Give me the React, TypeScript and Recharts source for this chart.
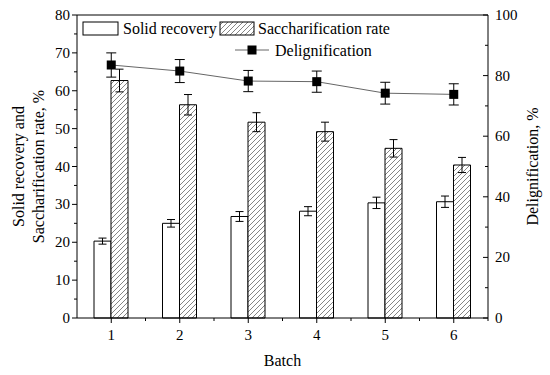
import {
  Bar,
  ComposedChart,
  ErrorBar,
  Label,
  Line,
  ReferenceLine,
  XAxis,
  YAxis,
} from "recharts";

const batches = ["1", "2", "3", "4", "5", "6"];
const solidRecovery = [20.3, 25.0, 26.8, 28.2, 30.4, 30.7];
const solidErr = [0.8, 1.0, 1.3, 1.2, 1.5, 1.5];
const saccharification = [62.7, 56.3, 51.7, 49.2, 44.8, 40.4];
const saccharificationErr = [3.0, 2.7, 2.5, 2.5, 2.3, 2.0];
const delignification = [83.5, 81.5, 78.2, 78.0, 74.2, 73.8];
const delignificationErr = [4.0, 3.8, 3.5, 3.5, 3.6, 3.5];

const leftTicks = [0, 5, 10, 15, 20, 25, 30, 35, 40, 45, 50, 55, 60, 65, 70, 75, 80];
const rightTicks = [0, 10, 20, 30, 40, 50, 60, 70, 80, 90, 100];

const data = batches.map((batch, i) => ({
  batch,
  solid: solidRecovery[i],
  solidErr: solidErr[i],
  sacch: saccharification[i],
  sacchErr: saccharificationErr[i],
  delig: delignification[i],
  deligErr: delignificationErr[i],
}));

const SERIF = { fontFamily: "Liberation Serif" };
const BAND = 411 / 6;

const LeftTick = ({ x, y, payload }: any) => {
  const major = payload.value % 10 === 0;
  return (
    <g>
      <line x1={x} x2={x - (major ? 5 : 3)} y1={y} y2={y} stroke="#000" />
      {major && (
        <text x={x - 7} y={y} dy={5} textAnchor="end" fontSize={15} style={SERIF} fill="#000">
          {payload.value}
        </text>
      )}
    </g>
  );
};

const RightTick = ({ x, y, payload }: any) => {
  const major = payload.value % 20 === 0;
  return (
    <g>
      <line x1={x} x2={x - (major ? 5 : 3)} y1={y} y2={y} stroke="#000" />
      {major && (
        <text x={x + 7} y={y} dy={5} textAnchor="start" fontSize={15} style={SERIF} fill="#000">
          {payload.value}
        </text>
      )}
    </g>
  );
};

const BottomTick = ({ x, y, payload }: any) => (
  <g>
    <line x1={x} x2={x} y1={y} y2={y + 5} stroke="#000" />
    <line x1={x + BAND / 2} x2={x + BAND / 2} y1={y} y2={y + 3} stroke="#000" />
    <text x={x} y={y + 22} textAnchor="middle" fontSize={15} style={SERIF} fill="#000">
      {payload.value}
    </text>
  </g>
);

const Square = ({ cx, cy }: any) => {
  if (cx == null || cy == null) return null;
  return <rect x={cx - 4.5} y={cy - 4.5} width={9} height={9} fill="#000" />;
};

const LeftTitle = ({ viewBox }: any) => {
  const cy = viewBox.y + viewBox.height / 2;
  return (
    <text
      transform={`translate(0, ${cy}) rotate(-90)`}
      textAnchor="middle"
      fontSize={16}
      style={SERIF}
      fill="#000"
    >
      <tspan x={0} y={24}>Solid recovery and</tspan>
      <tspan x={0} y={44}>Saccharification rate, %</tspan>
    </text>
  );
};

const RightTitle = ({ viewBox }: any) => {
  const cy = viewBox.y + viewBox.height / 2;
  return (
    <text
      transform={`translate(538, ${cy}) rotate(-90)`}
      textAnchor="middle"
      fontSize={16}
      style={SERIF}
      fill="#000"
    >
      Delignification, %
    </text>
  );
};

function LegendBox() {
  return (
    <svg
      width={550}
      height={375}
      style={{ position: "absolute", left: 0, top: 0, pointerEvents: "none" }}
    >
      <g fontSize={16} style={SERIF} fill="#000">
        <rect x={83} y={22} width={35} height={13} fill="#fff" stroke="#000" />
        <text x={123} y={34}>Solid recovery</text>
        <rect x={220} y={22} width={34} height={13} fill="url(#hatch)" stroke="#000" />
        <text x={258} y={34}>Saccharification rate</text>
        <line x1={235} x2={269} y1={50} y2={50} stroke="#666" />
        <rect x={247.5} y={45.5} width={9} height={9} fill="#000" />
        <text x={275} y={56}>Delignification</text>
      </g>
    </svg>
  );
}

export default function App() {
  return (
    <div
      style={{
        position: "absolute",
        left: 0,
        top: 0,
        width: 550,
        height: 375,
        background: "#fff",
        fontFamily: "Liberation Serif",
      }}
    >
      <svg width={0} height={0} style={{ position: "absolute" }}>
        <defs>
          <pattern id="hatch" patternUnits="userSpaceOnUse" width={5} height={5}>
            <rect width={5} height={5} fill="#fff" />
            <path d="M-1,1 l2,-2 M0,5 l5,-5 M4,6 l2,-2" stroke="#666" strokeWidth={0.8} />
          </pattern>
        </defs>
      </svg>
      <ComposedChart
        width={550}
        height={375}
        data={data}
        margin={{ top: 15, right: 0, bottom: 0, left: 0 }}
        barGap={0}
      >
        <XAxis
          dataKey="batch"
          height={57}
          tickSize={0}
          tickMargin={0}
          tickLine={false}
          tick={BottomTick}
          axisLine={{ stroke: "#000" }}
        >
          <Label
            value="Batch"
            position="insideBottom"
            offset={9}
            fontSize={16}
            style={SERIF}
            fill="#000"
          />
        </XAxis>
        <YAxis
          yAxisId="left"
          width={77}
          domain={[0, 80]}
          ticks={leftTicks}
          interval={0}
          tickSize={0}
          tickMargin={0}
          tickLine={false}
          tick={LeftTick}
          axisLine={{ stroke: "#000" }}
        >
          <Label content={LeftTitle} />
        </YAxis>
        <YAxis
          yAxisId="right"
          orientation="right"
          width={62}
          domain={[0, 100]}
          ticks={rightTicks}
          interval={0}
          tickSize={0}
          tickMargin={0}
          tickLine={false}
          tick={RightTick}
          axisLine={{ stroke: "#000" }}
        >
          <Label content={RightTitle} />
        </YAxis>
        <ReferenceLine yAxisId="left" y={80} stroke="#000" />
        <Bar
          yAxisId="left"
          dataKey="solid"
          fill="#fff"
          stroke="#000"
          strokeWidth={1}
          barSize={17}
          isAnimationActive={false}
        >
          <ErrorBar dataKey="solidErr" width={4} stroke="#000" strokeWidth={1} direction="y" />
        </Bar>
        <Bar
          yAxisId="left"
          dataKey="sacch"
          fill="url(#hatch)"
          stroke="#000"
          strokeWidth={1}
          barSize={17}
          isAnimationActive={false}
        >
          <ErrorBar dataKey="sacchErr" width={4} stroke="#000" strokeWidth={1} direction="y" />
        </Bar>
        <Line
          yAxisId="right"
          dataKey="delig"
          stroke="#666"
          strokeWidth={1}
          dot={Square}
          activeDot={false}
          isAnimationActive={false}
        >
          <ErrorBar dataKey="deligErr" width={5} stroke="#000" strokeWidth={1} direction="y" />
        </Line>
      </ComposedChart>
      <LegendBox />
    </div>
  );
}
